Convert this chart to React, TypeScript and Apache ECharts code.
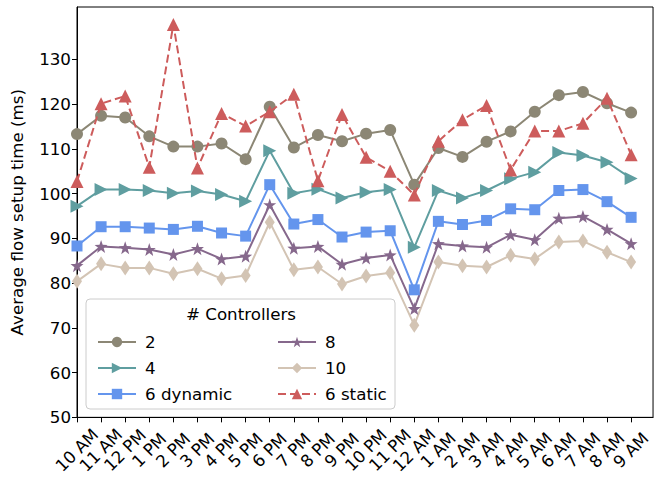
import React, { useEffect, useRef } from "react";
import * as echarts from "echarts";

const hours = ["10 AM","11 AM","12 PM","1 PM","2 PM","3 PM","4 PM","5 PM","6 PM","7 PM","8 PM","9 PM","10 PM","11 PM","12 AM","1 AM","2 AM","3 AM","4 AM","5 AM","6 AM","7 AM","8 AM","9 AM"];
const yTicks = [50, 60, 70, 80, 90, 100, 110, 120, 130];

const ctrl2 = [113.3,117.4,117.0,112.8,110.5,110.5,111.2,107.7,119.4,110.3,113.1,111.7,113.4,114.2,102.0,110.2,108.2,111.6,113.9,118.3,122.0,122.7,120.2,118.1];
const ctrl4 = [97.2,100.9,100.9,100.7,100.1,100.6,99.8,98.3,109.6,100.1,101.0,99.0,100.3,100.9,88.0,100.7,99.0,100.7,103.3,104.8,109.2,108.5,107.0,103.4];
const ctrl6dyn = [88.3,92.6,92.6,92.3,92.0,92.7,91.2,90.5,102.0,93.2,94.2,90.3,91.4,91.7,78.5,93.8,93.1,94.0,96.6,96.4,100.7,100.9,98.2,94.7];
const ctrl8 = [83.9,88.2,87.9,87.5,86.4,87.7,85.4,86.0,97.5,87.8,88.2,84.2,85.6,86.3,74.3,88.8,88.3,88.0,90.8,89.7,94.5,94.9,92.0,88.8];
const ctrl10 = [80.4,84.3,83.4,83.4,82.1,83.2,81.0,81.7,93.6,83.0,83.6,79.8,81.6,82.3,70.6,84.7,83.9,83.6,86.2,85.4,89.2,89.4,86.9,84.7];
const ctrl6static = [102.7,120.1,121.8,105.9,137.8,105.7,117.9,115.1,118.3,122.2,102.9,117.7,108.1,105.0,99.7,111.7,116.5,119.7,105.3,114.0,114.0,115.7,121.3,108.7];

const FONT = "DejaVu Sans";
const FS = 16.7;
const STAR = "path://M0,-10 L2.35,-3.24 L9.51,-3.09 L3.8,1.24 L5.88,8.09 L0,4 L-5.88,8.09 L-3.8,1.24 L-9.51,-3.09 L-2.35,-3.24 Z";

function mk(name: string, vals: number[], color: string, symbol: string, size: any, extra: any = {}) {
  return {
    name,
    type: "line",
    data: vals.map((v, i) => [i, v]),
    symbol,
    symbolSize: size,
    showAllSymbol: true,
    lineStyle: { color, width: 2, type: extra.dashed ? [8, 4] : "solid" },
    itemStyle: { color, opacity: 1 },
    symbolRotate: extra.rotate || 0,
    emphasis: { disabled: true },
    z: extra.z || 2,
  };
}

export default function App() {
  const ref = useRef<HTMLDivElement>(null);
  useEffect(() => {
    const chart = echarts.init(ref.current!, null, { renderer: "svg" });
    const series = [
      mk("2", ctrl2, "#8c8775", "circle", 12),
      mk("4", ctrl4, "#5f9ea0", "triangle", 13, { rotate: -90 }),
      mk("6 dynamic", ctrl6dyn, "#6495ed", "rect", 11),
      mk("8", ctrl8, "#86688c", STAR, 13),
      mk("10", ctrl10, "#d3c4b4", "diamond", [10, 15]),
      mk("6 static", ctrl6static, "#cd5c5c", "triangle", 13, { dashed: true, z: 3 }),
    ];
    const legendCommon = {
      orient: "vertical",
      itemWidth: 38,
      itemHeight: 13,
      itemGap: 8,
      z: 10,
      textStyle: { fontFamily: FONT, fontSize: FS, color: "#000", lineHeight: 18, padding: [0, 0, 0, 4] },
      selectedMode: false,
    };
    chart.setOption({
      animation: false,
      grid: { left: 77, top: 7, right: -2, bottom: 58, show: true, borderColor: "#000", borderWidth: 1, backgroundColor: "transparent" },
      xAxis: {
        type: "value",
        min: 0,
        max: 23.91,
        interval: 1,
        splitLine: { show: false },
        axisLine: { lineStyle: { color: "#000", width: 1 } },
        axisTick: { show: true, length: 5, lineStyle: { color: "#000" }, customValues: hours.map((_, i) => i) },
        axisLabel: {
          rotate: 45,
          align: "center",
          verticalAlign: "middle",
          fontFamily: FONT,
          fontSize: FS,
          color: "#000",
          margin: 33,
          customValues: hours.map((_, i) => i),
          formatter: (v: number) => hours[Math.round(v)] ?? "",
        },
      },
      yAxis: {
        type: "value",
        min: 50,
        max: 141.7,
        interval: 10,
        name: "Average flow setup time (ms)",
        nameLocation: "middle",
        nameGap: 52,
        nameTextStyle: { fontFamily: FONT, fontSize: FS, color: "#000" },
        splitLine: { show: false },
        axisLine: { show: true, lineStyle: { color: "#000", width: 1 } },
        axisTick: { show: true, length: 5, lineStyle: { color: "#000" }, customValues: yTicks },
        axisLabel: { fontFamily: FONT, fontSize: FS, color: "#000", margin: 6, customValues: yTicks },
      },
      legend: [
        { ...legendCommon, left: 92, top: 328, data: ["2", "4", "6 dynamic"] },
        { ...legendCommon, left: 272, top: 328, data: ["8", "10", "6 static"] },
      ],
      graphic: [
        {
          type: "rect",
          z: 5,
          shape: { x: 86, y: 299, width: 309, height: 110, r: 4 },
          style: { fill: "rgba(255,255,255,0.8)", stroke: "#cccccc", lineWidth: 1 },
        },
        {
          type: "text",
          z: 6,
          x: 241,
          y: 314,
          style: { text: "# Controllers", fontFamily: FONT, fontSize: FS, fill: "#000", align: "center", verticalAlign: "middle" },
        },
      ],
      series,
    });
    return () => chart.dispose();
  }, []);
  return <div ref={ref} style={{ width: 654, height: 477, position: "absolute", left: 0, top: 0 }} />;
}
